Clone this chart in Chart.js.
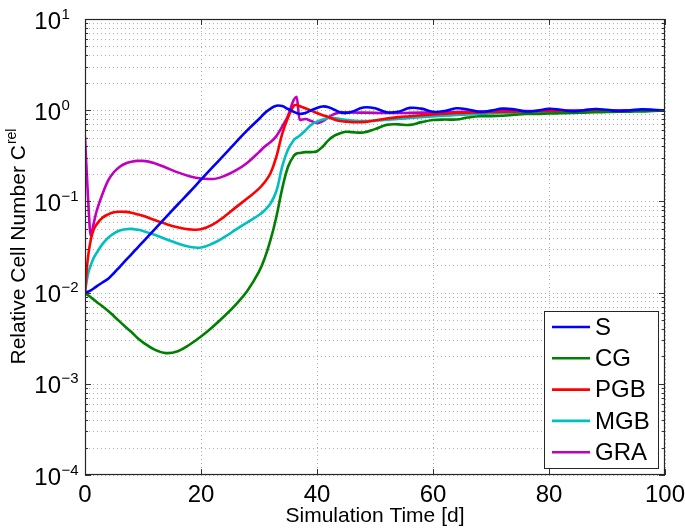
<!DOCTYPE html>
<html>
<head>
<meta charset="utf-8">
<script src="https://cdn.jsdelivr.net/npm/chart.js@4/dist/chart.umd.min.js"></script>
<style>
  html, body { margin: 0; background: #fff; }
</style>
</head>
<body>
<canvas id="cellChart" width="685" height="529"></canvas>
<script>
// ---- DATA ----
const days = [0,0.5,1,1.5,2,3,4,5,6,7,8,9,10,12,14,16,18,20,22,24,26,28,30,31,32,33,34,35,36,36.5,
  37,38,39,40,41,42,43,44,45,46,48,50,52,54,56,58,60,62,64,66,68,70,72,74,76,78,80,82,84,86,88,90,92,94,96,98,100];

const sVals = [0.0100,0.0102,0.0106,0.0111,0.0117,0.0129,0.0142,0.0164,0.0192,0.0225,0.0263,0.0308,0.0360,
  0.0494,0.0676,0.0925,0.126,0.173,0.237,0.324,0.443,0.605,0.80,0.93,1.04,1.12,1.11,1.03,0.96,0.93,
  0.91,0.93,1.00,1.06,1.10,1.08,1.01,0.95,0.93,0.96,1.07,1.05,0.95,0.96,1.06,1.04,0.96,0.98,1.05,1.02,
  0.96,0.99,1.04,1.02,0.97,0.99,1.035,1.01,0.975,1.0,1.03,1.01,0.98,1.0,1.02,1.01,0.99];

const cgVals = [0.0098,0.0094,0.0089,0.0084,0.0079,0.0071,0.0063,0.0055,0.0048,0.0042,0.0037,0.0032,0.00285,
  0.00237,0.00217,0.00228,0.00268,0.00330,0.00420,0.0055,0.0074,0.0105,0.017,0.024,0.038,0.068,0.138,0.24,0.316,0.335,
  0.34,0.347,0.347,0.355,0.40,0.47,0.525,0.56,0.58,0.575,0.57,0.62,0.69,0.70,0.69,0.74,0.78,0.79,0.79,0.83,
  0.86,0.86,0.87,0.89,0.91,0.91,0.92,0.925,0.93,0.94,0.95,0.955,0.96,0.965,0.97,0.98,0.99];

const pgbVals = [0.0100,0.024,0.038,0.049,0.056,0.066,0.072,0.076,0.077,0.0767,0.075,0.0724,0.0695,
  0.0625,0.0565,0.0520,0.0494,0.0494,0.0555,0.0680,0.0860,0.108,0.138,0.163,0.205,0.31,0.55,0.83,1.12,1.14,
  1.11,1.05,0.99,0.93,0.88,0.84,0.79,0.76,0.75,0.74,0.74,0.77,0.81,0.84,0.86,0.88,0.90,0.915,0.93,0.94,
  0.945,0.955,0.96,0.965,0.97,0.975,0.98,0.98,0.985,0.985,0.99,0.99,0.99,0.995,0.995,1.0,1.0];

const mgbVals = [0.0100,0.0158,0.020,0.024,0.0272,0.034,0.040,0.0447,0.0479,0.0495,0.050,0.049,0.0475,
  0.0430,0.0385,0.0345,0.0318,0.0312,0.0345,0.0405,0.049,0.059,0.071,0.080,0.095,0.13,0.24,0.37,0.47,0.50,
  0.525,0.60,0.69,0.75,0.79,0.82,0.82,0.80,0.785,0.77,0.76,0.77,0.785,0.80,0.82,0.84,0.855,0.87,0.885,0.90,
  0.91,0.92,0.93,0.94,0.945,0.95,0.955,0.96,0.965,0.97,0.975,0.98,0.985,0.985,0.99,0.99,0.995];

const graVals = [0.51,0.117,0.042,0.0575,0.078,0.12,0.170,0.210,0.240,0.260,0.272,0.278,0.278,
  0.262,0.234,0.208,0.189,0.178,0.176,0.19,0.219,0.266,0.347,0.40,0.447,0.52,0.66,0.87,1.30,1.40,
  0.78,0.80,0.76,0.72,0.76,0.84,0.91,0.945,0.95,0.945,0.94,0.935,0.93,0.93,0.935,0.94,0.945,0.95,0.955,0.96,
  0.965,0.97,0.97,0.975,0.98,0.98,0.985,0.985,0.99,0.99,0.99,0.995,0.995,0.995,1.0,1.0,1.0];

const seriesNames = ['S','CG','PGB','MGB','GRA'];
const seriesVals = [sVals, cgVals, pgbVals, mgbVals, graVals];
const seriesColors = ['#0000ff','#008000','#ff0000','#00bfbf','#bf00bf'];

const xTicks = [0,20,40,60,80,100];
const yDecades = [-4,-3,-2,-1,0,1];
const yMinor = [2,3,4,5,6,7,8,9];

const FONT = '"Liberation Sans", Arial, Helvetica, sans-serif';

// all grid values on the log axis (decades + minor steps)
const yGridVals = [];
yDecades.forEach(e => {
  yGridVals.push(Math.pow(10, e));
  if (e < 1) yMinor.forEach(m => yGridVals.push(m * Math.pow(10, e)));
});

// ---- AXES DECORATION (matlab look) ----
const matlabAxes = {
  id: 'matlabAxes',
  beforeDatasetsDraw(chart) {
    const {ctx, chartArea: a, scales: {x, y}} = chart;
    ctx.save();
    ctx.strokeStyle = '#b0b0b0';
    ctx.lineWidth = 1;
    ctx.setLineDash([1, 3]);
    xTicks.forEach(v => {
      const px = Math.round(x.getPixelForValue(v)) + 0.5;
      ctx.beginPath(); ctx.moveTo(px, a.top); ctx.lineTo(px, a.bottom); ctx.stroke();
    });
    yGridVals.forEach(v => {
      const py = Math.round(y.getPixelForValue(v)) + 0.5;
      ctx.beginPath(); ctx.moveTo(a.left, py); ctx.lineTo(a.right, py); ctx.stroke();
    });
    ctx.restore();
  },
  afterDatasetsDraw(chart) {
    const {ctx, chartArea: a, scales: {x, y}} = chart;
    ctx.save();
    ctx.strokeStyle = '#333';
    ctx.lineWidth = 1;
    // tick marks inside the box
    yGridVals.forEach(v => {
      const py = Math.round(y.getPixelForValue(v)) + 0.5;
      const len = yDecades.some(e => Math.abs(Math.pow(10, e) - v) < 1e-12) ? 6 : 3;
      ctx.beginPath();
      ctx.moveTo(a.left, py); ctx.lineTo(a.left + len, py);
      ctx.moveTo(a.right, py); ctx.lineTo(a.right - len, py);
      ctx.stroke();
    });
    xTicks.forEach(v => {
      const px = Math.round(x.getPixelForValue(v)) + 0.5;
      ctx.beginPath();
      ctx.moveTo(px, a.bottom); ctx.lineTo(px, a.bottom - 6);
      ctx.moveTo(px, a.top); ctx.lineTo(px, a.top + 6);
      ctx.stroke();
    });
    // box
    ctx.strokeStyle = '#262626';
    ctx.lineWidth = 1.2;
    ctx.strokeRect(a.left + 0.5, a.top + 0.5, a.right - a.left - 1, a.bottom - a.top - 1);
    ctx.restore();
  },
  afterDraw(chart) {
    const {ctx, chartArea: a, scales: {y}} = chart;
    ctx.save();
    ctx.fillStyle = '#000';
    // y tick labels 10^e
    yDecades.forEach(e => {
      const py = y.getPixelForValue(Math.pow(10, e));
      ctx.font = '24px ' + FONT;
      ctx.textAlign = 'right';
      ctx.textBaseline = 'alphabetic';
      ctx.fillText('10', 61, py + 9.5);
      ctx.font = '15px ' + FONT;
      ctx.textAlign = 'left';
      ctx.fillText(e < 0 ? '\u2212' + (-e) : String(e), 61.5, py - 0.5);
    });
    // y title with superscript
    ctx.translate(25, (a.top + a.bottom) / 2);
    ctx.rotate(-Math.PI / 2);
    ctx.font = '21px ' + FONT;
    const main = 'Relative Cell Number C';
    const w1 = ctx.measureText(main).width;
    ctx.font = '14px ' + FONT;
    const w2 = ctx.measureText('rel').width;
    const start = -(w1 + w2) / 2;
    ctx.textAlign = 'left';
    ctx.font = '21px ' + FONT;
    ctx.fillText(main, start, 0);
    ctx.font = '14px ' + FONT;
    ctx.fillText('rel', start + w1 + 1, -9);
    ctx.restore();

    // legend box, bottom right inside the axes
    const ds = chart.data.datasets;
    const bw = 114, bh = 157;
    const bx = a.right - 7 - bw, by = a.bottom - 7 - bh;
    ctx.save();
    ctx.fillStyle = '#fff';
    ctx.fillRect(bx, by, bw, bh);
    ctx.strokeStyle = '#262626';
    ctx.lineWidth = 1;
    ctx.strokeRect(bx + 0.5, by + 0.5, bw, bh);
    ctx.font = '24px ' + FONT;
    ctx.textBaseline = 'middle';
    ctx.textAlign = 'left';
    ds.forEach((d, i) => {
      const cy = by + 16 + i * 31.3;
      ctx.strokeStyle = d.borderColor;
      ctx.lineWidth = 2.6;
      ctx.beginPath(); ctx.moveTo(bx + 8, cy); ctx.lineTo(bx + 46, cy); ctx.stroke();
      ctx.fillStyle = '#000';
      ctx.fillText(d.label, bx + 51, cy + 1);
    });
    ctx.restore();
  }
};

// ---- CHART ----
const ctx = document.getElementById('cellChart');
new Chart(ctx, {
  type: 'line',
  data: {
    datasets: seriesNames.map((name, i) => ({
      label: name,
      data: days.map((d, j) => ({x: d, y: seriesVals[i][j]})),
      borderColor: seriesColors[i],
      borderWidth: 2.6,
      pointRadius: 0,
      fill: false,
      tension: 0.4,
      cubicInterpolationMode: name === 'GRA' ? 'monotone' : 'default'
    }))
  },
  options: {
    responsive: false,
    animation: false,
    layout: { padding: { top: 19, right: 20, left: 0, bottom: 0 } },
    plugins: { legend: { display: false }, tooltip: { enabled: false } },
    scales: {
      x: {
        type: 'linear', min: 0, max: 100,
        afterBuildTicks: s => { s.ticks = xTicks.map(v => ({value: v})); },
        grid: { display: false, drawTicks: false },
        border: { display: false },
        ticks: { font: { family: FONT, size: 24 }, color: '#000', padding: 6, maxRotation: 0, autoSkip: false },
        title: { display: true, text: 'Simulation Time [d]', font: { family: FONT, size: 21 }, color: '#000', padding: 0 },
        afterFit: s => { s.height = 54; s.paddingLeft = 0; s.paddingRight = 0; }
      },
      y: {
        type: 'logarithmic', min: 1e-4, max: 10,
        afterBuildTicks: s => { s.ticks = yGridVals.map(v => ({value: v})); },
        grid: { display: false, drawTicks: false },
        border: { display: false },
        ticks: { display: false },
        afterFit: s => { s.width = 85; s.paddingTop = 0; s.paddingBottom = 0; }
      }
    }
  },
  plugins: [matlabAxes]
});
</script>
</body>
</html>
